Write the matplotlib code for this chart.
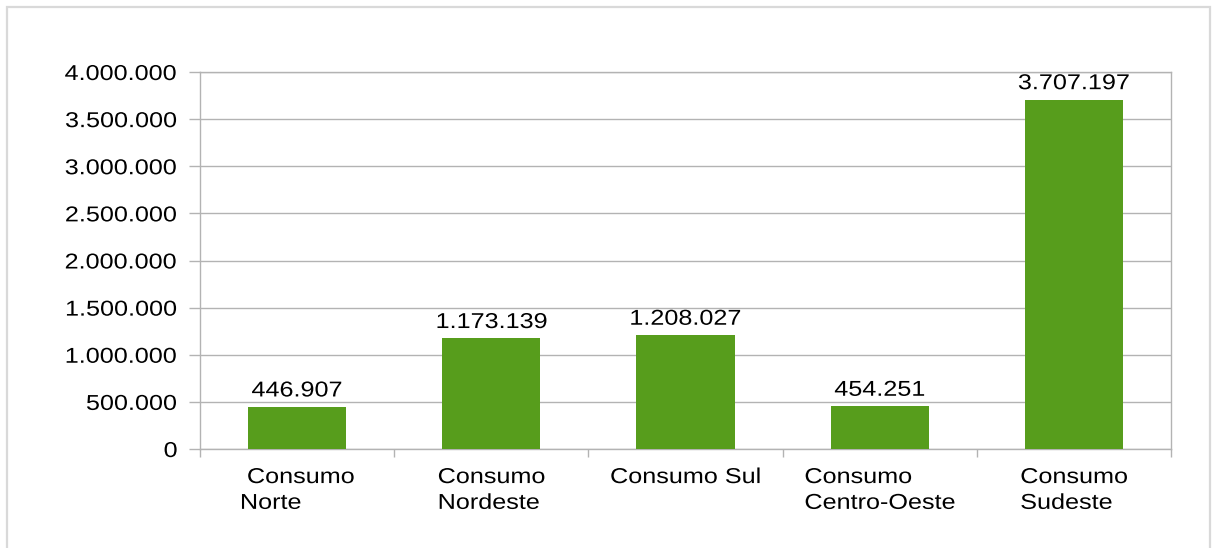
import matplotlib
matplotlib.use("Agg")
import matplotlib.pyplot as plt
from matplotlib.patches import Rectangle
from matplotlib.patheffects import AbstractPathEffect
from matplotlib.transforms import Affine2D
from matplotlib.ticker import FixedLocator, FuncFormatter

# Consumption by region
categories = [" Consumo\nNorte", "Consumo\nNordeste", "Consumo Sul",
              "Consumo\nCentro-Oeste", "Consumo\nSudeste"]
values = [446907, 1173139, 1208027, 454251, 3707197]
y_ticks = [0, 500000, 1000000, 1500000, 2000000, 2500000, 3000000, 3500000, 4000000]

BAR_COLOR = "#579d1c"
GRID_COLOR = "#b3b3b3"
FONT = "Liberation Sans"
FS = 15.5
STRETCH = 1.17


def fmt_br(v, pos=None):
    return format(int(round(v)), ",").replace(",", ".")


class HStretch(AbstractPathEffect):
    """Widen glyphs horizontally around the text's anchor point."""

    def __init__(self, text, sx):
        super().__init__()
        self.text = text
        self.sx = sx

    def draw_path(self, renderer, gc, tpath, affine, rgbFace=None):
        px = self.text.get_transform().transform(self.text.get_position())[0]
        t = affine + Affine2D().translate(-px, 0).scale(self.sx, 1).translate(px, 0)
        renderer.draw_path(gc, tpath, t, rgbFace)


W, H, DPI = 1220, 548, 100
fig = plt.figure(figsize=(W / DPI, H / DPI), dpi=DPI)
fig.patch.set_facecolor("white")

# outer frame
fig.patches.append(Rectangle((7 / W, -0.05), (1210 - 7) / W, (H - 7) / H + 0.05,
                             transform=fig.transFigure, fill=False,
                             edgecolor="#d9d9d9", linewidth=1.6, clip_on=False))

ax = fig.add_axes([200 / W, (H - 449) / H, (1171 - 200) / W, (449 - 72) / H])
x = list(range(len(categories)))
ax.bar(x, values, width=0.505, color=BAR_COLOR, zorder=3)

ax.set_xlim(-0.5, len(categories) - 0.5)
ax.set_ylim(0, 4000000)

ax.yaxis.set_major_locator(FixedLocator(y_ticks))
ax.yaxis.set_major_formatter(FuncFormatter(fmt_br))
ax.yaxis.grid(True, color=GRID_COLOR, linewidth=1.0, zorder=0)
ax.set_axisbelow(True)

ax.set_xticks(x)
ax.set_xticklabels(categories, ha="center", multialignment="left", linespacing=1.3)
ax.set_xticks([i - 0.5 for i in range(len(categories) + 1)], minor=True)

ax.tick_params(axis="y", which="major", length=8, width=1.0, color=GRID_COLOR,
               pad=8, labelsize=FS)
ax.tick_params(axis="x", which="major", length=0, pad=13, labelsize=FS)
ax.tick_params(axis="x", which="minor", length=6, width=1.0, color=GRID_COLOR)

for s in ax.spines.values():
    s.set_color(GRID_COLOR)
    s.set_linewidth(1.0)

for lbl in ax.get_xticklabels() + ax.get_yticklabels():
    lbl.set_fontfamily(FONT)

labels = []
for xi, v in zip(x, values):
    t = ax.annotate(fmt_br(v), (xi, v), xytext=(0, 7.5), textcoords="offset points",
                    ha="center", va="baseline", fontsize=FS, fontfamily=FONT,
                    color="black", zorder=4)
    labels.append(t)

fig.canvas.draw()
for tick in ax.xaxis.get_major_ticks() + ax.yaxis.get_major_ticks():
    tick.label1.set_path_effects([HStretch(tick.label1, STRETCH)])
for t in labels:
    t.set_path_effects([HStretch(t, STRETCH)])

fig.savefig("out.png", dpi=DPI, facecolor="white")
